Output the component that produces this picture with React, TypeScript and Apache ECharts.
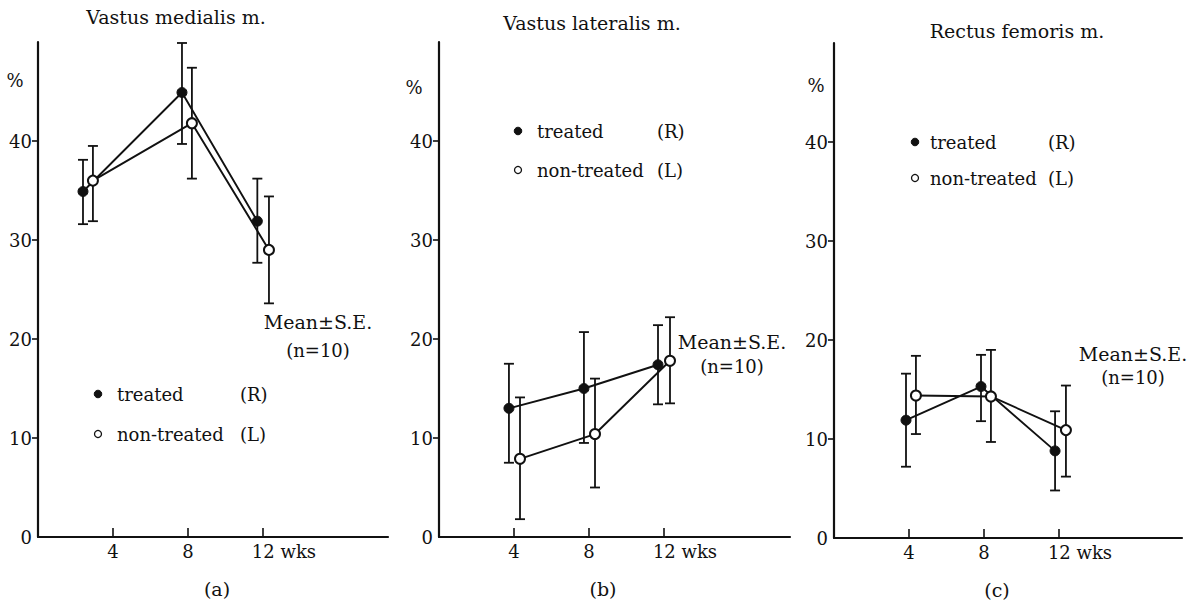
import React, { useEffect, useRef } from "react";
import * as echarts from "echarts";

// ---- data (weeks, %) ----
const panelTitles = ["Vastus medialis m.", "Vastus lateralis m.", "Rectus femoris m."];
const panelTags = ["(a)", "(b)", "(c)"];
const xTickValues = [4, 8, 12];
const yTickValues = [0, 10, 20, 30, 40];

// (a) Vastus medialis
const aTreatedX = [2.4, 7.68, 11.7];
const aTreatedMean = [34.9, 44.9, 31.9];
const aTreatedLow = [31.6, 39.7, 27.7];
const aTreatedHigh = [38.1, 49.9, 36.2];
const aNonX = [2.93, 8.21, 12.32];
const aNonMean = [36.0, 41.8, 29.0];
const aNonLow = [31.9, 36.2, 23.6];
const aNonHigh = [39.5, 47.4, 34.4];

// (b) Vastus lateralis
const bTreatedX = [3.73, 7.73, 11.68];
const bTreatedMean = [13.0, 15.0, 17.4];
const bTreatedLow = [7.5, 9.5, 13.4];
const bTreatedHigh = [17.5, 20.7, 21.4];
const bNonX = [4.32, 8.32, 12.32];
const bNonMean = [7.9, 10.4, 17.8];
const bNonLow = [1.8, 5.0, 13.5];
const bNonHigh = [14.1, 16.0, 22.2];

// (c) Rectus femoris
const cTreatedX = [3.84, 7.84, 11.79];
const cTreatedMean = [11.9, 15.3, 8.8];
const cTreatedLow = [7.2, 11.8, 4.8];
const cTreatedHigh = [16.6, 18.5, 12.8];
const cNonX = [4.37, 8.37, 12.37];
const cNonMean = [14.4, 14.3, 10.9];
const cNonLow = [10.5, 9.7, 6.2];
const cNonHigh = [18.4, 19.0, 15.4];

const legendTreated = "treated";
const legendNon = "non-treated";
const legendR = "(R)";
const legendL = "(L)";
const noteMean = "Mean±S.E.";
const noteN = "(n=10)";

const FONT = "DejaVu Serif";
const INK = "#111111";

const panels = [
  {
    tX: aTreatedX, tM: aTreatedMean, tL: aTreatedLow, tH: aTreatedHigh,
    nX: aNonX, nM: aNonMean, nL: aNonLow, nH: aNonHigh,
  },
  {
    tX: bTreatedX, tM: bTreatedMean, tL: bTreatedLow, tH: bTreatedHigh,
    nX: bNonX, nM: bNonMean, nL: bNonLow, nH: bNonHigh,
  },
  {
    tX: cTreatedX, tM: cTreatedMean, tL: cTreatedLow, tH: cTreatedHigh,
    nX: cNonX, nM: cNonMean, nL: cNonLow, nH: cNonHigh,
  },
];

// layout (pixels)
const grids = [
  { left: 38, top: 42, width: 350, height: 495, xMax: 18.67 },
  { left: 439, top: 42, width: 351, height: 495, xMax: 18.72 },
  { left: 834, top: 43, width: 348, height: 495, xMax: 18.56 },
];
const titlePos = [
  [176, 17],
  [592, 23],
  [1017, 31],
];
const percentPos = [
  [15, 80],
  [414, 87],
  [816, 85],
];
const legendPos = [
  { dot: 98, text: 117, paren: 240, y1: 394, y2: 434 },
  { dot: 518, text: 537, paren: 657, y1: 131, y2: 170 },
  { dot: 915, text: 930, paren: 1048, y1: 142, y2: 178 },
];
const notePos = [
  { x: 318, y1: 322, y2: 350 },
  { x: 732, y1: 342, y2: 366 },
  { x: 1133, y1: 354, y2: 377 },
];
const tagPos = [
  [217, 589],
  [603, 589],
  [997, 590],
];

function errorRender(params: any, api: any) {
  const x = api.value(0);
  const lo = api.value(1);
  const hi = api.value(2);
  const p1 = api.coord([x, lo]);
  const p2 = api.coord([x, hi]);
  const cap = 5;
  const st = { stroke: INK, lineWidth: 1.8 };
  return {
    type: "group",
    children: [
      { type: "line", shape: { x1: p1[0], y1: p1[1], x2: p2[0], y2: p2[1] }, style: st },
      { type: "line", shape: { x1: p1[0] - cap, y1: p1[1], x2: p1[0] + cap, y2: p1[1] }, style: st },
      { type: "line", shape: { x1: p2[0] - cap, y1: p2[1], x2: p2[0] + cap, y2: p2[1] }, style: st },
    ],
  };
}

function txt(x: number, y: number, text: string, size: number, align: string) {
  return {
    type: "text",
    x,
    y,
    style: { text, fill: INK, fontFamily: FONT, fontSize: size, align, verticalAlign: "middle" },
  };
}

function buildOption() {
  const grid: any[] = [];
  const xAxis: any[] = [];
  const yAxis: any[] = [];
  const series: any[] = [];
  const graphic: any[] = [];

  grids.forEach((g, i) => {
    grid.push({ left: g.left, top: g.top, width: g.width, height: g.height, containLabel: false });
    xAxis.push({
      type: "value",
      gridIndex: i,
      min: 0,
      max: g.xMax,
      interval: 4,
      axisLine: { show: true, lineStyle: { color: INK, width: 2.2 } },
      axisTick: { show: true, inside: true, length: 9, customValues: xTickValues, lineStyle: { color: INK, width: 1.6 } },
      axisLabel: {
        show: true,
        customValues: xTickValues,
        margin: 5,
        color: INK,
        fontFamily: FONT,
        fontSize: 18,
        formatter: (v: number) => (v === 12 ? "{p|\u00a0}12 wks" : String(v)),
        rich: { p: { width: 42, fontFamily: FONT, fontSize: 18 } },
      },
      splitLine: { show: false },
    });
    yAxis.push({
      type: "value",
      gridIndex: i,
      min: 0,
      max: 50,
      interval: 10,
      axisLine: { show: true, lineStyle: { color: INK, width: 2.2 } },
      axisTick: { show: true, inside: false, length: 6, customValues: [10, 20, 30, 40], lineStyle: { color: INK, width: 1.6 } },
      axisLabel: {
        show: true,
        customValues: yTickValues,
        margin: 6,
        color: INK,
        fontFamily: FONT,
        fontSize: 18,
      },
      splitLine: { show: false },
    });

    const p = panels[i];
    const errT = p.tX.map((x, k) => [x, p.tL[k], p.tH[k]]);
    const errN = p.nX.map((x, k) => [x, p.nL[k], p.nH[k]]);
    const lineT = p.tX.map((x, k) => [x, p.tM[k]]);
    const lineN = p.nX.map((x, k) => [x, p.nM[k]]);

    series.push({
      type: "custom",
      xAxisIndex: i,
      yAxisIndex: i,
      renderItem: errorRender,
      data: errT,
      encode: { x: 0, y: [1, 2] },
      z: 2,
      silent: true,
    });
    series.push({
      type: "custom",
      xAxisIndex: i,
      yAxisIndex: i,
      renderItem: errorRender,
      data: errN,
      encode: { x: 0, y: [1, 2] },
      z: 2,
      silent: true,
    });
    series.push({
      type: "line",
      name: legendTreated,
      xAxisIndex: i,
      yAxisIndex: i,
      data: lineT,
      symbol: "circle",
      symbolSize: 10,
      showAllSymbol: true,
      lineStyle: { color: INK, width: 1.9 },
      itemStyle: { color: INK, borderColor: INK, borderWidth: 1 },
      z: 3,
    });
    series.push({
      type: "line",
      name: legendNon,
      xAxisIndex: i,
      yAxisIndex: i,
      data: lineN,
      symbol: "circle",
      symbolSize: 10,
      showAllSymbol: true,
      lineStyle: { color: INK, width: 1.9 },
      itemStyle: { color: "#ffffff", borderColor: INK, borderWidth: 2 },
      z: 4,
    });

    const tp = titlePos[i];
    graphic.push(txt(tp[0], tp[1], panelTitles[i], 19, "center"));
    const pp = percentPos[i];
    graphic.push(txt(pp[0], pp[1], "%", 18, "center"));
    const lp = legendPos[i];
    graphic.push({ type: "circle", shape: { cx: lp.dot, cy: lp.y1, r: 3.8 }, style: { fill: INK, stroke: INK, lineWidth: 1 } });
    graphic.push({ type: "circle", shape: { cx: lp.dot, cy: lp.y2, r: 3.5 }, style: { fill: "#fff", stroke: INK, lineWidth: 1.3 } });
    graphic.push(txt(lp.text, lp.y1, legendTreated, 18, "left"));
    graphic.push(txt(lp.text, lp.y2, legendNon, 18, "left"));
    graphic.push(txt(lp.paren, lp.y1, legendR, 18, "left"));
    graphic.push(txt(lp.paren, lp.y2, legendL, 18, "left"));
    const np = notePos[i];
    graphic.push(txt(np.x, np.y1, noteMean, 19, "center"));
    graphic.push(txt(np.x, np.y2, noteN, 18, "center"));
    const tg = tagPos[i];
    graphic.push(txt(tg[0], tg[1], panelTags[i], 19, "center"));
  });

  return {
    animation: false,
    backgroundColor: "#ffffff",
    grid,
    xAxis,
    yAxis,
    series,
    graphic,
  };
}

export default function App() {
  const ref = useRef<HTMLDivElement>(null);
  useEffect(() => {
    if (!ref.current) return;
    const chart = echarts.init(ref.current, undefined, { renderer: "svg" });
    chart.setOption(buildOption() as any);
    return () => chart.dispose();
  }, []);
  return (
    <div
      ref={ref}
      style={{ position: "fixed", left: 0, top: 0, width: 1187, height: 608, background: "#fff" }}
    />
  );
}
